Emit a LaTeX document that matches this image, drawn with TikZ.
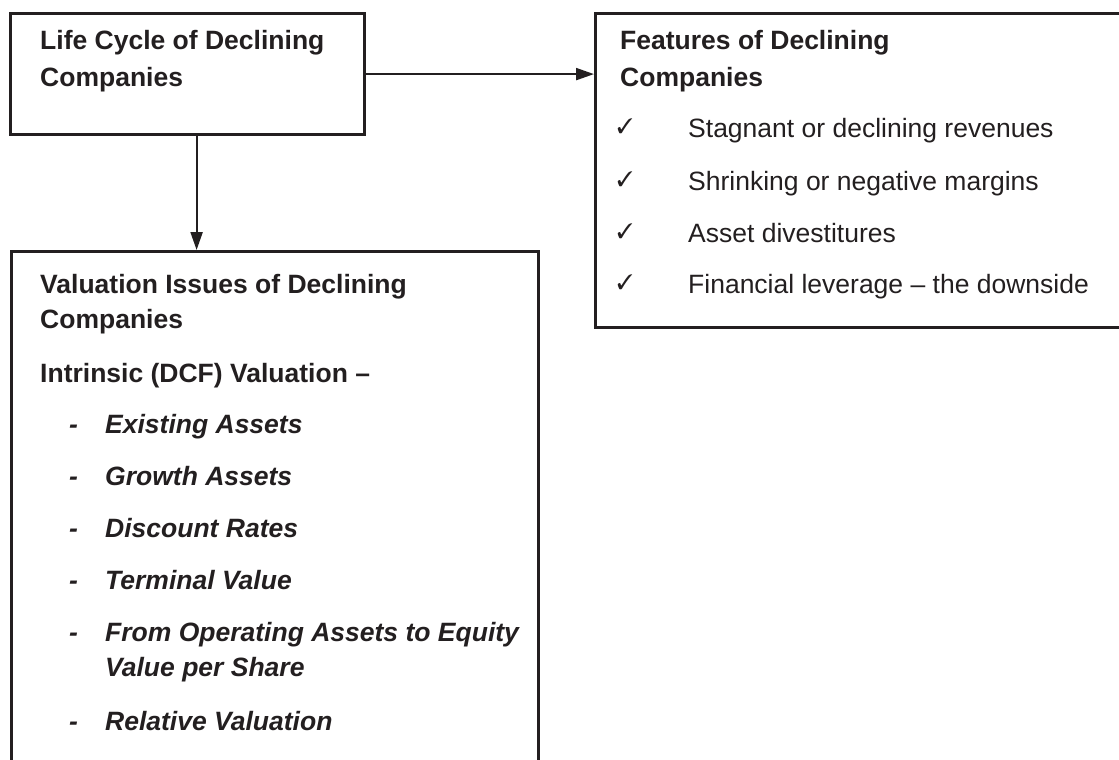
\documentclass[tikz,border=0pt]{standalone}
\usepackage{pifont}
\usepackage{fontspec}
\setmainfont{Liberation Sans}
\usetikzlibrary{arrows.meta, positioning}
\definecolor{inkblack}{HTML}{231F20}

\begin{document}
\begin{tikzpicture}[x=1pt, y=-1pt,
    panel/.style={draw=inkblack, line width=3.2pt, inner sep=0pt, anchor=north west},
    head/.style={anchor=base west, inner sep=0pt, text=inkblack,
                 font=\fontsize{26.5}{35}\selectfont\bfseries},
    plain/.style={anchor=base west, inner sep=0pt, text=inkblack,
                  font=\fontsize{26.5}{35}\selectfont},
    sub/.style={anchor=base west, inner sep=0pt, text=inkblack,
                font=\fontsize{26.5}{35}\selectfont\bfseries\itshape},
    tick/.style={anchor=base west, inner sep=0pt, text=inkblack,
                 font=\fontsize{21}{21}\selectfont},
    arr/.style={-{Triangle[length=18pt, width=12pt]}, line width=2.2pt, inkblack},
  ]
    \useasboundingbox (0,0) rectangle (1119,760);
    \clip (0,0) rectangle (1119,760);

    % boxes
    \node[panel, minimum width=354pt, minimum height=121pt] (life) at (9,12) {};
    \node[panel, minimum width=545pt, minimum height=314pt] (feat) at (594,12) {};
    \node[panel, minimum width=527pt, minimum height=530pt] (val) at (10,250) {};

    % connectors
    \draw[arr] (life.east) -- (life.east -| feat.west);
    \draw[arr] ([xshift=9pt]life.south) -- ([xshift=9pt]life.south |- val.north);

    % life cycle
    \node[head] (lifeA) at (40,50) {Life Cycle of Declining};
    \node[head] (lifeB) at (40,86) {Companies};

    % features
    \node[head] (featA) at (620,50) {Features of Declining};
    \node[head] (featB) at (620,86) {Companies};
    \node[tick] (tickA) at (617,133) {\ding{51}};
    \node[tick] (tickB) at (617,186) {\ding{51}};
    \node[tick] (tickC) at (617,238) {\ding{51}};
    \node[tick] (tickD) at (617,289) {\ding{51}};
    \node[plain] (featC) at (688,137) {Stagnant or declining revenues};
    \node[plain] (featD) at (688,190) {Shrinking or negative margins};
    \node[plain] (featE) at (688,242) {Asset divestitures};
    \node[plain] (featF) at (688,293) {Financial leverage – the downside};

    % valuation issues
    \node[head] (valA) at (40,293) {Valuation Issues of Declining};
    \node[head] (valB) at (40,328) {Companies};
    \node[head] (valC) at (40,382) {Intrinsic (DCF) Valuation –};
    \node[sub] (dashA) at (69,433) {-};
    \node[sub] (dashB) at (69,485) {-};
    \node[sub] (dashC) at (69,537) {-};
    \node[sub] (dashD) at (69,589) {-};
    \node[sub] (dashE) at (69,641) {-};
    \node[sub] (dashF) at (69,730) {-};
    \node[sub] (valD) at (105,433) {Existing Assets};
    \node[sub] (valE) at (105,485) {Growth Assets};
    \node[sub] (valF) at (105,537) {Discount Rates};
    \node[sub] (valG) at (105,589) {Terminal Value};
    \node[sub] (valH) at (105,641) {From Operating Assets to Equity};
    \node[sub] (valI) at (105,676) {Value per Share};
    \node[sub] (valJ) at (105,730) {Relative Valuation};
\end{tikzpicture}
\end{document}
